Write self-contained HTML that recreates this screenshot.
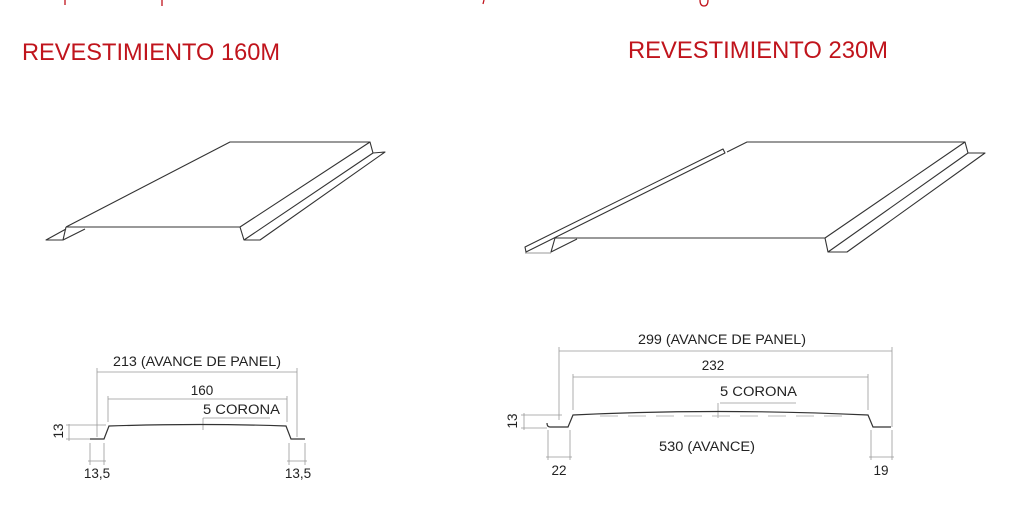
<!DOCTYPE html>
<html><head><meta charset="utf-8"><style>
html,body{margin:0;padding:0;background:#fff;width:1024px;height:513px;overflow:hidden}
svg{display:block}
text{font-family:"Liberation Sans",sans-serif}
</style></head><body>
<svg width="1024" height="513" viewBox="0 0 1024 513" xmlns="http://www.w3.org/2000/svg">
<g stroke="#c0141c" stroke-width="1.3" fill="none">
<line x1="65" y1="0" x2="65" y2="5"/><line x1="162" y1="0" x2="162" y2="6"/>
<line x1="484" y1="0" x2="483" y2="4"/><path d="M700 0 Q700 6 704 6 Q708 6 708 0"/>
</g>
<text x="22" y="60" font-size="24" fill="#c0141c" textLength="258" lengthAdjust="spacingAndGlyphs">REVESTIMIENTO 160M</text>
<text x="628" y="58" font-size="24" fill="#c0141c" textLength="260" lengthAdjust="spacingAndGlyphs">REVESTIMIENTO 230M</text>

<!-- left 3D panel -->
<g stroke="#333" stroke-width="1.1" fill="none" stroke-linejoin="round">
<path d="M66 227 L230 142 L370 142"/>
<path d="M66 227 L240 227"/>
<path d="M240 227 L370 142 L373 153 L385 152 L260 240 L244 240 L240 227"/>
<path d="M244 240 L373 153"/>
<path d="M66 227 L63 240 L46 240 L66 229"/>
<path d="M63 240 L85 229"/>
</g>
<!-- right 3D panel -->
<g stroke="#333" stroke-width="1.1" fill="none" stroke-linejoin="round">
<path d="M727 152 L747 142 L965 142"/>
<path d="M525 247 L723 149 L725 153 L526 252 Z"/>
<path d="M555 238 L825 238"/>
<path d="M555 238 L551 252 L577 239"/>
<path d="M525 253 L551 253" stroke="#999"/>
<path d="M825 238 L965 142 L968 153 L985 153 L847 252 L828 252 L825 238"/>
<path d="M828 252 L968 153"/>
</g>

<!-- left section -->
<g stroke="#999" stroke-width="0.8" fill="none">
<line x1="97" y1="372" x2="297" y2="372"/>
<line x1="97" y1="368" x2="97" y2="437"/><line x1="297" y1="368" x2="297" y2="437"/>
<line x1="108" y1="399" x2="287" y2="399"/>
<line x1="108" y1="396" x2="108" y2="422"/><line x1="287" y1="396" x2="287" y2="422"/>
<line x1="203" y1="418" x2="270" y2="418"/><line x1="203" y1="418" x2="203" y2="430"/>
<line x1="69" y1="424" x2="69" y2="441"/><line x1="66" y1="425" x2="106" y2="425"/><line x1="66" y1="439" x2="92" y2="439"/>
<line x1="90" y1="443" x2="90" y2="465"/><line x1="104" y1="443" x2="104" y2="465"/><line x1="88" y1="461" x2="106" y2="461"/>
<line x1="289" y1="443" x2="289" y2="465"/><line x1="305" y1="443" x2="305" y2="465"/><line x1="287" y1="461" x2="307" y2="461"/>
</g>
<path d="M90 439 L104 439 L109 426 Q203 423 286 426 L291 439 L305 439" stroke="#333" stroke-width="1.2" fill="none"/>
<g fill="#222" font-size="13.5">
<text x="113" y="366" textLength="168" lengthAdjust="spacingAndGlyphs">213 (AVANCE DE PANEL)</text>
<text x="202" y="395" text-anchor="middle">160</text>
<text x="203" y="414" textLength="77" lengthAdjust="spacingAndGlyphs">5 CORONA</text>
<text transform="translate(63 431) rotate(-90)" text-anchor="middle">13</text>
<text x="97" y="478" text-anchor="middle">13,5</text>
<text x="298" y="478" text-anchor="middle">13,5</text>
</g>

<!-- right section -->
<g stroke="#999" stroke-width="0.8" fill="none">
<line x1="559" y1="351" x2="892" y2="351"/>
<line x1="559" y1="347" x2="559" y2="420"/><line x1="892" y1="347" x2="892" y2="427"/>
<line x1="573" y1="377" x2="868" y2="377"/>
<line x1="573" y1="374" x2="573" y2="410"/><line x1="868" y1="374" x2="868" y2="410"/>
<line x1="720" y1="403" x2="796" y2="403"/><line x1="718" y1="403" x2="718" y2="418"/>
<line x1="524" y1="413" x2="524" y2="430"/><line x1="521" y1="415" x2="562" y2="415"/><line x1="521" y1="428" x2="547" y2="428"/>
<line x1="548" y1="430" x2="548" y2="460"/><line x1="570" y1="430" x2="570" y2="460"/><line x1="546" y1="457" x2="572" y2="457"/>
<line x1="871" y1="430" x2="871" y2="460"/><line x1="892" y1="430" x2="892" y2="460"/><line x1="869" y1="457" x2="894" y2="457"/>
</g>
<path d="M547 423 Q547 427 550 427 L568 427 L573 415 Q718 408 868 415 L873 427 L891 427" stroke="#333" stroke-width="1.2" fill="none"/>
<g stroke="#bbb" stroke-width="1" stroke-dasharray="18 10"><line x1="600" y1="416" x2="850" y2="416"/></g>
<g fill="#222" font-size="13.5">
<text x="638" y="344" textLength="168" lengthAdjust="spacingAndGlyphs">299 (AVANCE DE PANEL)</text>
<text x="713" y="370" text-anchor="middle">232</text>
<text x="720" y="396" textLength="77" lengthAdjust="spacingAndGlyphs">5 CORONA</text>
<text x="659" y="451" textLength="96" lengthAdjust="spacingAndGlyphs">530 (AVANCE)</text>
<text transform="translate(517 421) rotate(-90)" text-anchor="middle">13</text>
<text x="559" y="475" text-anchor="middle">22</text>
<text x="881" y="475" text-anchor="middle">19</text>
</g>
</svg>
</body></html>
